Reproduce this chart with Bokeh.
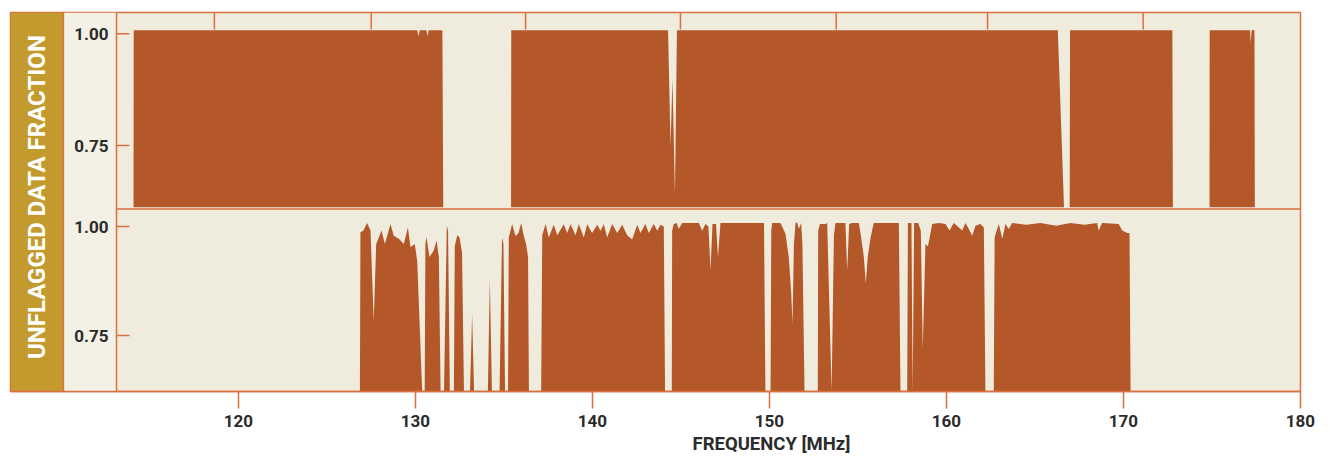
import numpy as np
from bokeh.plotting import figure
from bokeh.models import Range1d, FixedTicker, BoxAnnotation, Span, Label, Title, ColumnDataSource
from bokeh.core.properties import value
from bokeh.embed import file_html
from bokeh.resources import INLINE

# ---------------- data ----------------
X_TICKS = [120, 130, 140, 150, 160, 170, 180]
Y_TICKS = [0.75, 1.00]
Y_TICK_LABELS = ["0.75", "1.00"]
TOP_AXIS_TICKS = [118.64, 127.50, 136.22, 144.97, 153.77, 162.32, 171.11]

# upper panel: unflagged fraction vs frequency (MHz)
TOP_FREQ = [114.07, 114.08, 130.10, 130.17, 130.24, 130.62, 130.68, 130.74, 131.52, 131.57,
            135.40, 135.41, 144.27, 144.41, 144.52, 144.66, 144.77, 166.29, 166.64,
            166.96, 166.98, 172.76, 172.79, 174.86, 174.87, 177.15, 177.19, 177.24,
            177.40, 177.42]
TOP_FRAC = [0.0, 1.008, 1.008, 0.994, 1.008, 1.008, 0.994, 1.008, 1.008, 0.0,
            0.0, 1.008, 1.008, 0.75, 0.90, 0.64, 1.008, 1.008, 0.0,
            0.0, 1.008, 1.008, 0.0, 0.0, 1.008, 1.008, 0.98, 1.008,
            1.008, 0.0]

# lower panel: unflagged fraction vs frequency (MHz)
BOT_FREQ = [126.86, 126.89, 127.05, 127.27, 127.46, 127.64, 127.78, 128.08, 128.27, 128.59,
            128.77, 129.06, 129.34, 129.57, 129.72, 129.96, 130.10, 130.38, 130.52, 130.56,
            130.62, 130.79, 131.03, 131.19, 131.32, 131.42, 131.61, 131.77, 131.84, 131.94,
            132.17, 132.22, 132.36, 132.49, 132.63, 132.74, 133.08, 133.20, 133.31, 134.09,
            134.20, 134.32, 134.75, 134.89, 134.97, 135.06, 135.23, 135.27, 135.46, 135.65,
            135.82, 135.97, 136.12, 136.25, 136.36, 136.41,
            137.10, 137.16, 137.35, 137.53, 137.81, 138.01, 138.38, 138.57, 138.76, 139.04,
            139.23, 139.51, 139.70, 139.98, 140.27, 140.45, 140.64, 140.83, 141.11, 141.40,
            141.68, 141.96, 142.24, 142.53, 142.71, 142.99, 143.18, 143.46, 143.66, 143.84,
            144.03, 144.10, 144.48, 144.50, 144.59, 144.75, 144.88, 145.07, 146.01, 146.20,
            146.38, 146.55, 146.67, 146.78, 146.98, 147.09, 147.23, 149.69, 149.77,
            150.06, 150.10, 150.15, 150.62, 150.90, 151.09, 151.23, 151.30, 151.38, 151.47,
            151.56, 151.66, 151.79, 151.86, 151.98, 152.73, 152.75, 152.85, 153.16, 153.26,
            153.51, 153.64, 153.73, 154.29, 154.39, 154.50, 154.67, 155.05, 155.18, 155.33,
            155.44, 155.55, 155.71, 155.89, 157.31, 157.40, 157.78, 157.82, 158.02, 158.09,
            158.17, 158.40, 158.55, 158.66, 158.81, 158.95, 159.05, 159.19, 159.57, 159.94,
            160.17, 160.41, 160.70, 160.89, 161.07, 161.26, 161.45, 161.64, 161.92, 162.11,
            162.20, 162.67, 162.72, 162.77, 162.96, 163.15, 163.33, 163.52, 163.71, 164.50,
            165.30, 166.20, 167.00, 167.80, 168.51, 168.60, 168.79, 169.73, 169.93, 170.21,
            170.34, 170.40]
BOT_FRAC = [0.0, 0.987, 0.990, 1.008, 0.991, 0.784, 0.960, 0.991, 0.960, 1.006,
            0.979, 0.972, 0.960, 0.998, 0.953, 0.960, 0.920, 0.0, 0.0, 0.960,
            0.976, 0.930, 0.945, 0.968, 0.930, 0.0, 0.0, 1.002, 0.990, 0.0,
            0.0, 0.955, 0.980, 0.975, 0.940, 0.0, 0.0, 0.800, 0.0, 0.0,
            0.880, 0.0, 0.0, 0.975, 0.960, 0.0, 0.0, 0.975, 1.006, 0.978,
            0.985, 1.008, 0.978, 0.960, 0.930, 0.0,
            0.0, 0.980, 1.006, 0.975, 1.004, 0.980, 1.005, 0.985, 1.005, 0.980,
            1.006, 0.975, 1.005, 0.985, 1.004, 0.990, 1.005, 0.975, 1.006, 0.985,
            1.004, 0.980, 0.970, 1.004, 0.985, 1.006, 0.985, 1.006, 0.990, 1.004,
            1.000, 0.0, 0.0, 0.990, 1.006, 1.008, 0.995, 1.008, 1.008, 0.990,
            1.006, 1.000, 0.900, 1.006, 1.006, 0.930, 1.008, 1.008, 0.0,
            0.0, 0.990, 1.008, 1.008, 0.984, 0.930, 0.846, 0.777, 0.960, 1.008,
            1.010, 0.995, 1.008, 0.960, 0.0, 0.0, 0.990, 1.006, 1.006, 1.008,
            0.0, 0.980, 1.008, 1.008, 0.899, 1.006, 1.008, 1.008, 0.975, 0.930,
            0.870, 0.930, 0.975, 1.008, 1.008, 0.0, 0.0, 1.008, 1.008, 0.0,
            1.008, 1.008, 0.991, 0.720, 0.960, 0.955, 0.975, 1.006, 1.008, 1.006,
            0.991, 1.008, 0.998, 0.991, 1.008, 0.994, 0.979, 1.002, 1.006, 0.998,
            0.0, 0.0, 0.975, 0.983, 1.006, 0.972, 1.006, 0.994, 1.008, 1.004,
            1.008, 1.002, 1.008, 1.004, 1.008, 0.991, 1.008, 1.006, 0.991, 0.985,
            0.985, 0.0]

# ---------------- layout constants ----------------
X_LO, X_HI = 107.12, 180.0      # frame, incl. label band
X_BAND = 110.11                 # right edge of gold band
X_PLOT = 113.11                 # left edge of the plotting area
TOP_LO, TOP_HI = 0.1994, 1.0477 # upper-panel value range over full frame height
BOT_LO, BOT_HI = 0.6216, 1.4908 # lower-panel value range over full frame height
TOP_PANEL_BOTTOM = 0.608
TOP_BASE = 0.612

FILL = "#B4582A"
BG = "#EFECDE"
BG_LABEL = "#F3F0E6"
LINE = "#D8713F"
GOLD = "#C39A2E"
TXT = "#2B2B2B"
FONT = "Roboto"

p = figure(width=1322, height=460, output_backend="svg", toolbar_location=None,
           x_range=Range1d(X_LO, X_HI), y_range=Range1d(0, 1),
           y_axis_location=None,
           min_border_left=10, min_border_right=22, min_border_top=12, min_border_bottom=69,
           background_fill_color=BG, border_fill_color="white")
p.extra_y_ranges = {"top": Range1d(TOP_LO, TOP_HI), "bot": Range1d(BOT_LO, BOT_HI)}
p.grid.visible = False
p.outline_line_color = LINE
p.outline_line_width = 1.5

# gold band and label column
p.add_layout(BoxAnnotation(right=X_BAND, fill_color=GOLD, fill_alpha=1.0,
                           line_alpha=0, level="underlay"))
p.add_layout(BoxAnnotation(left=X_BAND, right=X_PLOT, fill_color=BG_LABEL, fill_alpha=1.0,
                           line_alpha=0, level="underlay"))
for loc in (X_BAND, X_PLOT):
    p.add_layout(Span(location=loc, dimension="height", line_color=LINE, line_width=1.5))

# data areas
top_y = np.maximum(np.array(TOP_FRAC), TOP_BASE)
p.varea(x=TOP_FREQ, y1=TOP_BASE, y2=top_y, fill_color=FILL, y_range_name="top")
bot_y = np.maximum(np.array(BOT_FRAC), BOT_LO)
p.varea(x=BOT_FREQ, y1=BOT_LO, y2=bot_y, fill_color=FILL, y_range_name="bot")

# divider between panels
p.segment(x0=[X_PLOT], x1=[X_HI], y0=[TOP_PANEL_BOTTOM], y1=[TOP_PANEL_BOTTOM],
          line_color=LINE, line_width=1.5, y_range_name="top")

# y ticks and labels for both panels
for rng in ("top", "bot"):
    src = ColumnDataSource(dict(x=[X_PLOT] * len(Y_TICKS), y=Y_TICKS, t=Y_TICK_LABELS))
    p.ray(x="x", y="y", length=13, length_units="screen", angle=0, source=src,
          line_color=LINE, line_width=1.5, y_range_name=rng)
    p.text(x="x", y="y", text="t", source=src, x_offset=-8, text_align="right",
           text_baseline="middle", text_font=value(FONT), text_font_style="bold",
           text_font_size="17px", text_color=TXT, y_range_name=rng)

# top (unlabelled) tick marks
p.ray(x=TOP_AXIS_TICKS, y=[1.0] * len(TOP_AXIS_TICKS), length=17, length_units="screen",
      angle=-np.pi / 2, line_color=LINE, line_width=1.5)

# bottom axis
ax = p.xaxis[0]
ax.ticker = FixedTicker(ticks=X_TICKS)
ax.axis_line_color = LINE
ax.axis_line_width = 1.5
ax.major_tick_line_color = LINE
ax.major_tick_line_width = 1.5
ax.major_tick_out = 17
ax.major_tick_in = 0
ax.minor_tick_line_color = None
ax.major_label_standoff = 6
ax.major_label_text_font = FONT
ax.major_label_text_font_style = "bold"
ax.major_label_text_font_size = "17px"
ax.major_label_text_color = TXT

p.add_layout(Title(text="FREQUENCY [MHz]", align="left", offset=682, standoff=2,
                   text_font=FONT, text_font_style="bold", text_font_size="18.5px",
                   text_color=TXT), "below")

p.add_layout(Label(x=(X_LO + X_BAND) / 2, y=0.513, angle=np.pi / 2,
                   text="UNFLAGGED DATA FRACTION", text_align="center",
                   text_baseline="middle", text_font=FONT, text_font_style="bold",
                   text_font_size="24px", text_color="white"))

open("out.html", "w").write(file_html(p, INLINE))
